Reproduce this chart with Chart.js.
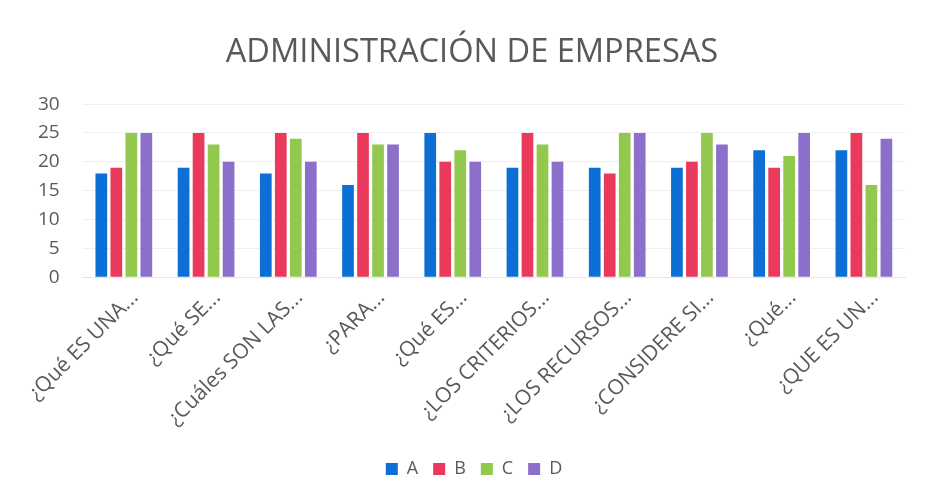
<!DOCTYPE html>
<html>
<head>
<meta charset="utf-8">
<script src="https://cdn.jsdelivr.net/npm/chart.js@4"></script>
<style>
html,body{margin:0;padding:0;background:#fff;}
#wrap{width:925px;height:504px;position:relative;}
</style>
</head>
<body>
<div id="wrap"><canvas id="c" width="925" height="504"></canvas></div>
<script>
const categories = ["¿Qué ES UNA...", "¿Qué SE...", "¿Cuáles SON LAS...", "¿PARA...", "¿Qué ES...", "¿LOS CRITERIOS...", "¿LOS RECURSOS...", "¿CONSIDERE SI...", "¿Qué...", "¿QUE ES UN..."];
const seriesA = [18, 19, 18, 16, 25, 19, 19, 19, 22, 22];
const seriesB = [19, 25, 25, 25, 20, 25, 18, 20, 19, 25];
const seriesC = [25, 23, 24, 23, 22, 23, 25, 25, 21, 16];
const seriesD = [25, 20, 20, 23, 20, 20, 25, 23, 25, 24];
const yTicks = [0, 5, 10, 15, 20, 25, 30];

const colors = ["#0b6fd6", "#e93a5c", "#93c84f", "#8c6fca"];
const FONT = "'Open Sans', sans-serif";

const shiftBlocks = {
  id: 'shiftBlocks',
  afterLayout(chart) {
    if (chart.titleBlock) { chart.titleBlock.left += 12; chart.titleBlock.right += 12; }
    if (chart.legend) { chart.legend.left += 14; chart.legend.right += 14; }
  }
};

new Chart(document.getElementById('c'), {
  type: 'bar',
  data: {
    labels: categories,
    datasets: [
      {label: 'A', data: seriesA, backgroundColor: colors[0]},
      {label: 'B', data: seriesB, backgroundColor: colors[1]},
      {label: 'C', data: seriesC, backgroundColor: colors[2]},
      {label: 'D', data: seriesD, backgroundColor: colors[3]}
    ]
  },
  plugins: [shiftBlocks],
  options: {
    responsive: false,
    animation: false,
    devicePixelRatio: 1,
    datasets: {bar: {categoryPercentage: 0.73, barPercentage: 0.78}},
    layout: {padding: {left: 15, right: 20, top: 12, bottom: 16}},
    plugins: {
      title: {
        display: true,
        text: 'ADMINISTRACIÓN DE EMPRESAS',
        color: '#595959',
        font: {family: FONT, size: 32.6, weight: 'normal'},
        padding: {top: 21, bottom: 32}
      },
      legend: {
        position: 'bottom',
        labels: {
          color: '#595959',
          font: {family: FONT, size: 18},
          boxWidth: 12, boxHeight: 12, padding: 15
        }
      },
      tooltip: {enabled: false}
    },
    scales: {
      x: {
        grid: {display: false, drawTicks: false},
        border: {color: '#e6e6e6'},
        afterFit: (s) => { s.paddingLeft = 0; s.paddingRight = 0; s.height += 6; },
        ticks: {
          color: '#595959',
          font: {family: FONT, size: 21},
          minRotation: 45, maxRotation: 45, autoSkip: false, padding: 8, labelOffset: 11
        }
      },
      y: {
        min: 0, max: 30,
        afterBuildTicks: (s) => { s.ticks = yTicks.map(v => ({value: v})); },
        grid: {color: '#efefef', drawTicks: false},
        border: {display: false},
        ticks: {
          color: '#595959',
          font: {family: FONT, size: 19},
          padding: 23
        }
      }
    }
  }
});
</script>
</body>
</html>
